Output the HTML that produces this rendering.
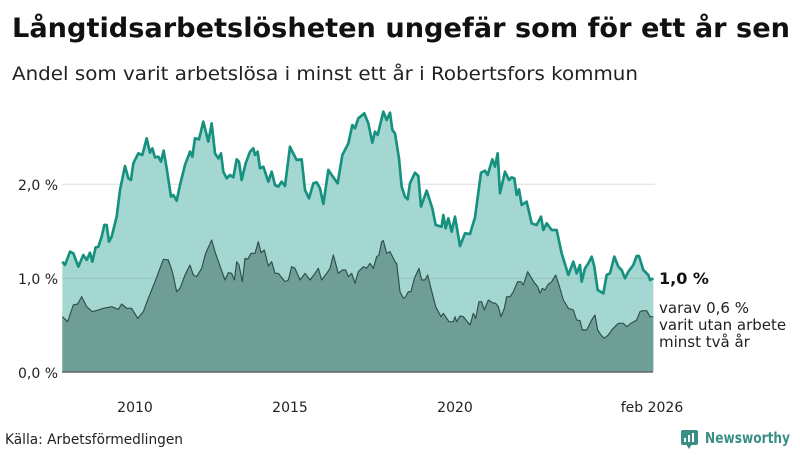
<!DOCTYPE html>
<html><head><meta charset="utf-8"><style>
body{margin:0;background:#fff;width:800px;height:450px;overflow:hidden;font-family:"Liberation Sans","DejaVu Sans",sans-serif;}
</style></head><body>
<svg width="800" height="450" xmlns="http://www.w3.org/2000/svg" font-family="'DejaVu Sans','Liberation Sans',sans-serif">
<text x="12" y="37" font-size="27" font-weight="bold" fill="#111" textLength="778" lengthAdjust="spacingAndGlyphs">Långtidsarbetslösheten ungefär som för ett år sen</text>
<text x="12" y="80" font-size="19" fill="#222" textLength="626" lengthAdjust="spacingAndGlyphs">Andel som varit arbetslösa i minst ett år i Robertsfors kommun</text>
<line x1="62" y1="184.3" x2="655" y2="184.3" stroke="#ddd" stroke-width="1"/>
<g transform="translate(55,100) scale(0.33333)">
<polygon fill="#a5d7d2" points="22,485 30,495 45,455 55,460 70,500 85,465 95,480 105,458 112,485 122,442 130,440 140,410 148,375 155,375 162,425 170,410 185,350 195,270 210,198 220,235 228,240 235,190 250,160 262,165 275,115 285,158 292,145 300,172 310,170 318,185 326,152 335,205 348,290 355,285 365,302 375,255 390,195 405,155 412,170 420,115 432,118 445,65 460,125 470,70 480,160 490,175 498,160 505,215 515,235 525,225 535,232 545,178 552,185 560,240 572,190 585,155 595,145 600,165 608,155 615,205 625,200 640,245 650,215 660,255 670,260 680,245 690,258 705,140 712,155 725,180 740,178 750,270 762,295 775,250 785,247 795,265 805,312 820,210 835,232 848,250 862,165 880,130 892,75 900,85 910,55 928,40 940,70 952,128 960,95 968,105 985,35 995,60 1005,38 1012,90 1020,100 1032,175 1040,260 1050,290 1058,298 1065,250 1080,218 1090,228 1098,320 1115,272 1132,325 1142,375 1160,380 1165,345 1172,385 1180,355 1190,395 1200,350 1215,438 1230,400 1245,402 1260,352 1278,218 1290,212 1298,225 1312,178 1320,200 1328,160 1335,280 1350,215 1362,240 1370,232 1378,235 1385,285 1392,268 1400,315 1415,305 1430,370 1445,375 1458,350 1465,390 1475,370 1490,390 1505,390 1520,460 1540,525 1555,485 1565,520 1575,495 1580,545 1590,505 1600,490 1610,470 1618,500 1628,570 1645,580 1655,525 1665,520 1678,470 1690,500 1700,510 1710,535 1720,515 1735,495 1745,468 1752,468 1765,510 1780,525 1785,540 1795,535 1795,815 22,815"/>
<polygon fill="#6f9e96" points="22,650 38,665 55,615 68,612 80,590 95,620 112,635 130,630 145,625 170,620 190,628 200,612 215,625 230,625 248,655 265,635 278,600 300,545 325,478 340,480 352,515 365,575 375,565 390,525 405,495 415,525 425,530 440,505 452,460 470,420 480,455 492,490 510,540 520,518 530,520 538,540 545,485 552,495 562,545 570,475 578,478 588,460 600,460 610,425 618,458 628,450 640,498 650,485 660,520 670,520 690,545 700,540 710,500 720,505 735,540 750,520 765,540 780,520 790,505 800,540 815,520 825,505 835,465 850,520 862,510 872,510 880,530 890,520 900,550 910,515 925,500 935,505 945,490 955,505 965,470 972,465 980,425 985,422 995,460 1005,455 1020,485 1025,490 1035,575 1045,595 1052,590 1060,575 1068,575 1078,535 1092,505 1100,540 1110,540 1118,525 1128,565 1142,620 1158,650 1165,640 1182,665 1195,665 1200,650 1205,665 1215,648 1225,650 1245,675 1255,640 1262,655 1272,605 1280,605 1288,630 1300,600 1312,608 1322,610 1330,620 1338,650 1348,625 1355,590 1365,590 1375,575 1388,545 1398,545 1405,555 1418,515 1430,535 1438,548 1448,560 1455,580 1462,565 1470,570 1478,555 1490,545 1502,525 1512,555 1525,600 1540,625 1555,630 1565,660 1575,662 1582,690 1595,690 1610,660 1620,645 1628,690 1638,705 1648,715 1660,705 1672,688 1690,670 1705,670 1715,680 1728,670 1745,660 1755,635 1762,632 1775,632 1785,650 1795,650 1795,815 22,815"/>
<line x1="22" y1="535" x2="1800" y2="535" stroke="#8a9e9b" stroke-opacity="0.35" stroke-width="3"/>
<polyline fill="none" stroke="#2e5049" stroke-width="3.5" stroke-linejoin="round" points="22,650 38,665 55,615 68,612 80,590 95,620 112,635 130,630 145,625 170,620 190,628 200,612 215,625 230,625 248,655 265,635 278,600 300,545 325,478 340,480 352,515 365,575 375,565 390,525 405,495 415,525 425,530 440,505 452,460 470,420 480,455 492,490 510,540 520,518 530,520 538,540 545,485 552,495 562,545 570,475 578,478 588,460 600,460 610,425 618,458 628,450 640,498 650,485 660,520 670,520 690,545 700,540 710,500 720,505 735,540 750,520 765,540 780,520 790,505 800,540 815,520 825,505 835,465 850,520 862,510 872,510 880,530 890,520 900,550 910,515 925,500 935,505 945,490 955,505 965,470 972,465 980,425 985,422 995,460 1005,455 1020,485 1025,490 1035,575 1045,595 1052,590 1060,575 1068,575 1078,535 1092,505 1100,540 1110,540 1118,525 1128,565 1142,620 1158,650 1165,640 1182,665 1195,665 1200,650 1205,665 1215,648 1225,650 1245,675 1255,640 1262,655 1272,605 1280,605 1288,630 1300,600 1312,608 1322,610 1330,620 1338,650 1348,625 1355,590 1365,590 1375,575 1388,545 1398,545 1405,555 1418,515 1430,535 1438,548 1448,560 1455,580 1462,565 1470,570 1478,555 1490,545 1502,525 1512,555 1525,600 1540,625 1555,630 1565,660 1575,662 1582,690 1595,690 1610,660 1620,645 1628,690 1638,705 1648,715 1660,705 1672,688 1690,670 1705,670 1715,680 1728,670 1745,660 1755,635 1762,632 1775,632 1785,650 1795,650"/>
<polyline fill="none" stroke="#17917f" stroke-width="8" stroke-linejoin="round" points="22,485 30,495 45,455 55,460 70,500 85,465 95,480 105,458 112,485 122,442 130,440 140,410 148,375 155,375 162,425 170,410 185,350 195,270 210,198 220,235 228,240 235,190 250,160 262,165 275,115 285,158 292,145 300,172 310,170 318,185 326,152 335,205 348,290 355,285 365,302 375,255 390,195 405,155 412,170 420,115 432,118 445,65 460,125 470,70 480,160 490,175 498,160 505,215 515,235 525,225 535,232 545,178 552,185 560,240 572,190 585,155 595,145 600,165 608,155 615,205 625,200 640,245 650,215 660,255 670,260 680,245 690,258 705,140 712,155 725,180 740,178 750,270 762,295 775,250 785,247 795,265 805,312 820,210 835,232 848,250 862,165 880,130 892,75 900,85 910,55 928,40 940,70 952,128 960,95 968,105 985,35 995,60 1005,38 1012,90 1020,100 1032,175 1040,260 1050,290 1058,298 1065,250 1080,218 1090,228 1098,320 1115,272 1132,325 1142,375 1160,380 1165,345 1172,385 1180,355 1190,395 1200,350 1215,438 1230,400 1245,402 1260,352 1278,218 1290,212 1298,225 1312,178 1320,200 1328,160 1335,280 1350,215 1362,240 1370,232 1378,235 1385,285 1392,268 1400,315 1415,305 1430,370 1445,375 1458,350 1465,390 1475,370 1490,390 1505,390 1520,460 1540,525 1555,485 1565,520 1575,495 1580,545 1590,505 1600,490 1610,470 1618,500 1628,570 1645,580 1655,525 1665,520 1678,470 1690,500 1700,510 1710,535 1720,515 1735,495 1745,468 1752,468 1765,510 1780,525 1785,540 1795,535"/>
</g>
<line x1="62" y1="372" x2="653" y2="372" stroke="#666" stroke-width="1.5"/>
<g font-size="14" fill="#222">
<text x="18" y="190">2,0 %</text>
<text x="18" y="284">1,0 %</text>
<text x="18" y="378">0,0 %</text>
<text x="135" y="412" text-anchor="middle">2010</text>
<text x="290" y="412" text-anchor="middle">2015</text>
<text x="455" y="412" text-anchor="middle">2020</text>
<text x="652" y="412" text-anchor="middle">feb 2026</text>
<text x="659" y="313" font-size="15">varav 0,6 %</text>
<text x="659" y="330" font-size="15">varit utan arbete</text>
<text x="659" y="347" font-size="15">minst två år</text>
<text x="5" y="444" textLength="178" lengthAdjust="spacingAndGlyphs">Källa: Arbetsförmedlingen</text>
</g>
<text x="659" y="284" font-size="16" font-weight="bold" fill="#111">1,0 %</text>
<g fill="#3a8f85">
<rect x="681" y="430" width="17" height="15" rx="2"/>
<polygon points="686,444 692,444 689,449"/>
<text x="705" y="443" font-size="15" font-weight="bold" textLength="85" lengthAdjust="spacingAndGlyphs">Newsworthy</text>
</g>
<g fill="#fff"><rect x="684" y="438" width="2" height="4"/><rect x="688" y="435" width="2" height="7"/><rect x="692" y="433" width="2" height="9"/></g>
</svg>
</body></html>
